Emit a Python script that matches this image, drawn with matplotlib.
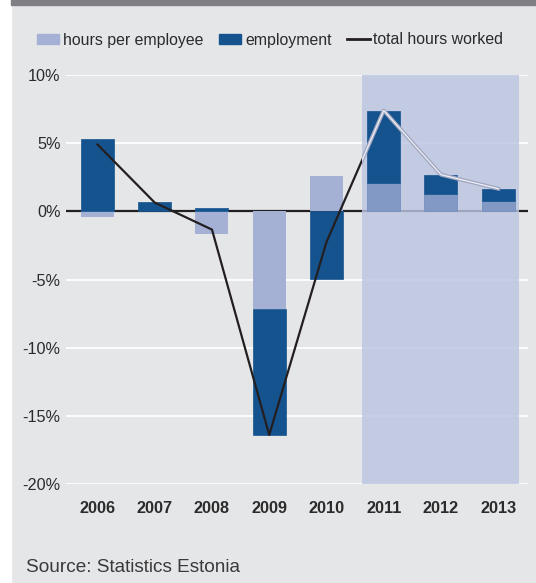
import matplotlib.pyplot as plt
from matplotlib.patches import Rectangle, Patch
from matplotlib.lines import Line2D
import numpy as np

plt.rcParams['font.family'] = ['Liberation Sans', 'DejaVu Sans']

years = ['2006', '2007', '2008', '2009', '2010', '2011', '2012', '2013']
hours_per_employee = [-0.42, 0.0, -1.66, -7.18, 2.56, 2.07, 1.30, 0.73]
employment = [5.27, 0.68, 0.24, -9.23, -4.96, 5.26, 1.34, 0.88]
total_hours = [4.9, 0.64, -1.34, -16.4, -2.25, 7.4, 2.69, 1.66]
forecast_from = 5  # 2011 onwards is a forecast

bg = '#e5e6e8'
dark_blue = '#15538f'
light_blue = '#a4b1d5'
fc_blue = '#8199c4'
shade = '#bcc5e2'

x = np.arange(len(years))
hours = np.array(hours_per_employee)
emp = np.array(employment)
emp_bottom = np.where(np.sign(emp) == np.sign(hours), hours, 0)

fig = plt.figure(figsize=(5.36, 5.83), dpi=100, facecolor=bg)
ax = fig.add_axes([66/536, 99/583, 462/536, 409/583])
ax.set_facecolor(bg)

# white strip on the left and dark band on top
fig.patches.append(Rectangle((0, 0), 11/536, 1, transform=fig.transFigure,
                             color='white', zorder=-1))
fig.patches.append(Rectangle((11/536, 1 - 5/583), 1, 5/583, transform=fig.transFigure,
                             color='#808084', zorder=-1))

ax.set_xlim(-0.55, 7.52)
ax.set_ylim(-20, 10)
yt = np.arange(-20, 11, 5)
ax.set_yticks(yt)
ax.set_yticklabels([f'{v}%' for v in yt])
ax.set_xticks(x)
ax.set_xticklabels(years, fontweight='bold')
ax.tick_params(length=0, labelsize=11.7, colors='#2b2b2b')
ax.tick_params(axis='x', pad=12)
ax.tick_params(axis='y', pad=4)
for s in ax.spines.values():
    s.set_visible(False)
for v in yt:
    if v != 0:
        ax.axhline(v, color='white', lw=1.3, zorder=1)
ax.axhline(0, color='#231f20', lw=1.6, zorder=2)

# forecast area
x0, x1 = forecast_from - 0.38, len(years) - 1 + 0.37
ax.add_patch(Rectangle((x0, -20), x1 - x0, 30, facecolor=shade, alpha=0.82,
                       edgecolor='none', zorder=2.5))

w = 0.576
past = x < forecast_from
fut = ~past
ax.bar(x[past], hours[past], w, color=light_blue, zorder=3)
ax.bar(x[fut], hours[fut], w, color=fc_blue, edgecolor='#7690c0', lw=0.6, zorder=3)
ax.bar(x, emp, w, bottom=emp_bottom, color=dark_blue, edgecolor=dark_blue, lw=0.5, zorder=3)

# total hours: black line for actual, light double line inside forecast area
ln, = ax.plot(x, total_hours, color='#231f20', lw=1.6, zorder=4)
ln.set_clip_path(Rectangle((-1, -25), x0 + 1, 40, transform=ax.transData))
l2, = ax.plot(x, total_hours, color='#a2a7c0', lw=2.8, zorder=4)
l3, = ax.plot(x, total_hours, color='#eef0f8', lw=0.9, zorder=4.1)
for l in (l2, l3):
    l.set_clip_path(Rectangle((x0, -25), 10, 40, transform=ax.transData))

handles = [Patch(color=light_blue), Patch(color=dark_blue),
           Line2D([], [], color='#231f20', lw=2)]
fig.legend(handles, ['hours per employee', 'employment', 'total hours worked'],
           loc='center', bbox_to_anchor=(270/536, 1 - 40/583), ncol=3, frameon=False,
           fontsize=11.4, handlelength=1.4, handleheight=0.55, handletextpad=0.25,
           columnspacing=1.0, labelcolor='#2b2b2b')

fig.text(26/536, 1 - 567/583, 'Source: Statistics Estonia', fontsize=13.7,
         color='#3a3a3a', va='center')

fig.savefig('out.png', dpi=100, facecolor=bg)
